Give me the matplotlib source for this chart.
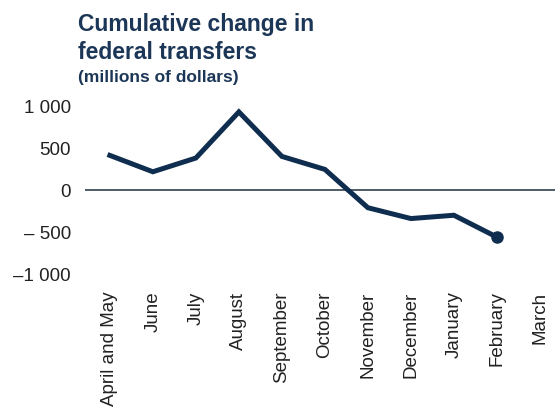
import matplotlib.pyplot as plt

# data
months = ["April and May", "June", "July", "August", "September", "October",
          "November", "December", "January", "February", "March"]
change = [415, 221, 384, 930, 403, 249, -205, -333, -294, -553]
yticks = [1000, 500, 0, -500, -1000]
ytick_labels = ["1 000", "500", "0", "\u2013 500", "\u20131 000"]

navy = "#0f2d4e"
plt.rcParams['font.family'] = ['Liberation Sans', 'DejaVu Sans']

fig = plt.figure(figsize=(5.55, 4.19), dpi=100)
ax = fig.add_axes([0.153, 0.344, 0.847, 0.403])

x = list(range(len(change)))
ax.plot(x, change, color=navy, lw=3.6, solid_joinstyle='miter', clip_on=False)
ax.plot(x[-1], change[-1], 'o', color=navy, ms=8, clip_on=False)
ax.axhline(0, color="#4e5a64", lw=1.4, zorder=0)

ax.set_xlim(-0.58, 10.35)
ax.set_ylim(-1000, 1000)
ax.set_xticks(range(len(months)))
ax.set_xticklabels(months, rotation=90, fontsize=13.5, color="#222222")
ax.set_yticks(yticks)
ax.set_yticklabels(ytick_labels, fontsize=13.5, color="#222222")
ax.tick_params(length=0)
ax.tick_params(axis='y', pad=10)
ax.tick_params(axis='x', pad=12)
for s in ax.spines.values():
    s.set_visible(False)

fig.text(0.14, 0.925, "Cumulative change in", fontsize=16.5, fontweight='bold', color="#1b3656")
fig.text(0.14, 0.86, "federal transfers", fontsize=16.5, fontweight='bold', color="#1b3656")
fig.text(0.14, 0.805, "(millions of dollars)", fontsize=12.5, fontweight='bold', color="#1b3656")

fig.savefig("out.png", dpi=100)
